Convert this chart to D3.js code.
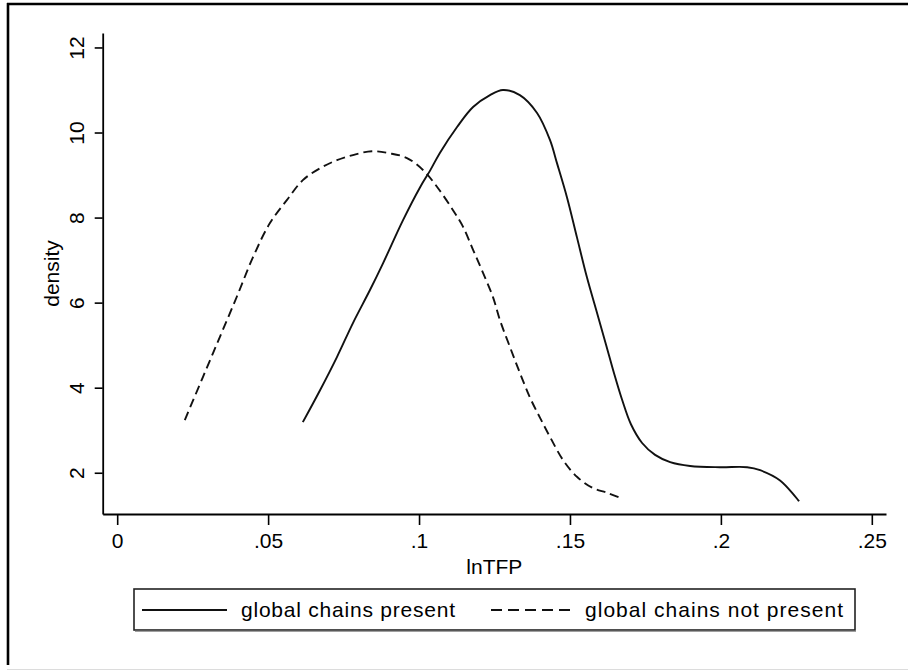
<!DOCTYPE html>
<html>
<head>
<meta charset="utf-8">
<script src="https://cdn.jsdelivr.net/npm/d3@7"></script>
<style>
  html, body { margin: 0; padding: 0; background: #fff; }
  svg { display: block; }
  text { font-family: "Liberation Sans", Arial, sans-serif; fill: #000; }
</style>
</head>
<body>
<svg id="chart" width="908" height="671"></svg>
<script>
// ---- data ----
const seriesNames = ["global chains present", "global chains not present"];

const presentX = [0.0615, 0.0672, 0.0728, 0.0781, 0.0837, 0.0881, 0.0947, 0.1004, 0.1037, 0.1069,
  0.1126, 0.1179, 0.1235, 0.1278, 0.1334, 0.1391, 0.1434, 0.1457, 0.1490, 0.1523, 0.1556, 0.1590,
  0.1620, 0.1646, 0.1673, 0.1702, 0.1739, 0.1782, 0.1832, 0.1898, 0.1997, 0.2087, 0.2130, 0.2196, 0.2259];
const presentY = [3.19, 3.94, 4.72, 5.52, 6.29, 6.93, 7.94, 8.72, 9.11, 9.52,
  10.13, 10.60, 10.88, 11.00, 10.88, 10.46, 9.82, 9.28, 8.48, 7.54, 6.60, 5.75,
  5.00, 4.34, 3.71, 3.14, 2.70, 2.42, 2.25, 2.16, 2.13, 2.13, 2.06, 1.82, 1.33];

const notPresentX = [0.0224, 0.0284, 0.0340, 0.0397, 0.0450, 0.0506, 0.0562, 0.0615, 0.0672, 0.0728,
  0.0781, 0.0844, 0.0904, 0.0960, 0.1013, 0.1060, 0.1112, 0.1146, 0.1179, 0.1212, 0.1245, 0.1268,
  0.1301, 0.1334, 0.1368, 0.1401, 0.1434, 0.1477, 0.1524, 0.1576, 0.1623, 0.1666];
const notPresentY = [3.24, 4.25, 5.19, 6.15, 7.07, 7.87, 8.41, 8.88, 9.16, 9.35,
  9.47, 9.56, 9.51, 9.40, 9.12, 8.72, 8.18, 7.78, 7.24, 6.70, 6.13, 5.59,
  4.96, 4.35, 3.76, 3.29, 2.84, 2.30, 1.90, 1.64, 1.53, 1.41];

const xTickValues = [0, 0.05, 0.1, 0.15, 0.2, 0.25];
const xTickLabels = ["0", ".05", ".1", ".15", ".2", ".25"];
const yTickValues = [2, 4, 6, 8, 10, 12];
const yTickLabels = ["2", "4", "6", "8", "10", "12"];
const xTitle = "lnTFP";
const yTitle = "density";

// ---- layout ----
const svg = d3.select("#chart");
const FONT = 21;

const x = d3.scaleLinear().domain([-0.0048, 0.2547]).range([102.7, 886]);
const y = d3.scaleLinear().domain([1.03, 12.34]).range([514, 33]);

// outer frame (left/top dark, bottom light)
svg.append("line").attr("x1", 8).attr("x2", 8).attr("y1", 3).attr("y2", 665)
  .attr("stroke", "#000").attr("stroke-width", 2.6);
svg.append("line").attr("x1", 7).attr("x2", 908).attr("y1", 4).attr("y2", 4)
  .attr("stroke", "#000").attr("stroke-width", 2.4);
svg.append("line").attr("x1", 7).attr("x2", 908).attr("y1", 669.5).attr("y2", 669.5)
  .attr("stroke", "#dcdcdc").attr("stroke-width", 1.2);

// x axis
const xAxis = d3.axisBottom(x).tickValues(xTickValues)
  .tickFormat((d, i) => xTickLabels[i]).tickSizeInner(11).tickSizeOuter(0).tickPadding(8);
const gx = svg.append("g").attr("transform", "translate(0,514)").call(xAxis);
gx.select(".domain").attr("stroke", "#000").attr("stroke-width", 1.8);
gx.selectAll(".tick line").attr("stroke", "#000").attr("stroke-width", 1.6);
gx.selectAll(".tick text").attr("font-size", FONT).attr("font-family", "Liberation Sans, Arial, sans-serif")
  .attr("fill", "#000").attr("dy", null).attr("y", 34);

// y axis
const yAxis = d3.axisLeft(y).tickValues(yTickValues)
  .tickFormat((d, i) => yTickLabels[i]).tickSizeInner(8).tickSizeOuter(0);
const gy = svg.append("g").attr("transform", "translate(102.7,0)").call(yAxis);
gy.select(".domain").attr("stroke", "#000").attr("stroke-width", 1.8);
gy.selectAll(".tick line").attr("stroke", "#000").attr("stroke-width", 1.6);
gy.selectAll(".tick text").attr("font-size", FONT).attr("font-family", "Liberation Sans, Arial, sans-serif")
  .attr("fill", "#000").attr("x", null).attr("dy", null)
  .attr("text-anchor", "middle")
  .attr("transform", "translate(-19,0) rotate(-90)");

// axis titles
svg.append("text").attr("x", (x.range()[0] + x.range()[1]) / 2).attr("y", 574)
  .attr("text-anchor", "middle").attr("font-size", FONT).text(xTitle);
svg.append("text").attr("transform", `translate(59,${(y.range()[0] + y.range()[1]) / 2}) rotate(-90)`)
  .attr("text-anchor", "middle").attr("font-size", FONT).text(yTitle);

// curves
const line = d3.line().x(d => x(d[0])).y(d => y(d[1])).curve(d3.curveCatmullRom);
const presentPts = presentX.map((v, i) => [v, presentY[i]]);
const notPresentPts = notPresentX.map((v, i) => [v, notPresentY[i]]);

svg.append("path").datum(presentPts).attr("d", line)
  .attr("fill", "none").attr("stroke", "#111").attr("stroke-width", 1.9);
svg.append("path").datum(notPresentPts).attr("d", line)
  .attr("fill", "none").attr("stroke", "#111").attr("stroke-width", 1.9)
  .attr("stroke-dasharray", "9,5");

// legend
const lg = svg.append("g");
lg.append("rect").attr("x", 134).attr("y", 589).attr("width", 721).attr("height", 41)
  .attr("fill", "#fff").attr("stroke", "#222").attr("stroke-width", 1.6);
lg.append("line").attr("x1", 135).attr("x2", 856).attr("y1", 631.3).attr("y2", 631.3)
  .attr("stroke", "#888").attr("stroke-width", 1);
const legItems = [
  { name: seriesNames[0], x1: 142, x2: 227, tx: 241, tw: 214, dash: null },
  { name: seriesNames[1], x1: 491, x2: 576, tx: 585, tw: 258, dash: "11,6" }
];
legItems.forEach(it => {
  lg.append("line").attr("x1", it.x1).attr("x2", it.x2).attr("y1", 610).attr("y2", 610)
    .attr("stroke", "#111").attr("stroke-width", 1.9)
    .attr("stroke-dasharray", it.dash);
  lg.append("text").attr("x", it.tx).attr("y", 617).attr("font-size", FONT)
    .attr("textLength", it.tw).attr("lengthAdjust", "spacing").text(it.name);
});
</script>
</body>
</html>
